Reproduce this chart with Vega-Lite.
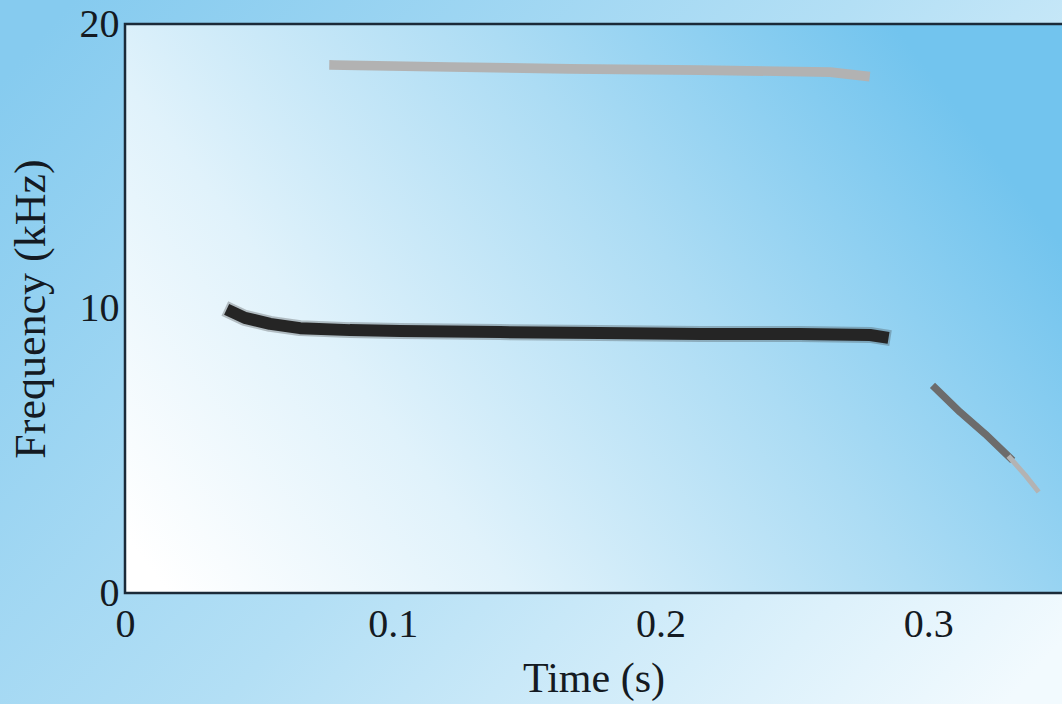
{
  "$schema": "https://vega.github.io/schema/vega-lite/v6.json",
  "autosize": {"type": "none"},
  "width": 937,
  "height": 569,
  "padding": {"left": 125, "top": 24, "right": 0, "bottom": 111},
  "background": "#a8dbf4",
  "config": {
    "view": {"stroke": null},
    "axis": {
      "labelFont": "Liberation Serif",
      "titleFont": "Liberation Serif",
      "labelColor": "#141a22",
      "titleColor": "#141a22",
      "titleFontWeight": "normal",
      "grid": false,
      "ticks": false,
      "domain": false,
      "labelFlush": false
    }
  },
  "data": {
    "values": [
      {"trace": "main", "t": 0.0400, "f": 9.88},
      {"trace": "main", "t": 0.0448, "f": 9.67},
      {"trace": "main", "t": 0.0542, "f": 9.46},
      {"trace": "main", "t": 0.0654, "f": 9.31},
      {"trace": "main", "t": 0.0840, "f": 9.24},
      {"trace": "main", "t": 0.1027, "f": 9.21},
      {"trace": "main", "t": 0.1401, "f": 9.17},
      {"trace": "main", "t": 0.1774, "f": 9.14},
      {"trace": "main", "t": 0.2148, "f": 9.10},
      {"trace": "main", "t": 0.2521, "f": 9.10},
      {"trace": "main", "t": 0.2783, "f": 9.07},
      {"trace": "main", "t": 0.2830, "f": 9.00},
      {"trace": "upper", "t": 0.0781, "f": 18.56},
      {"trace": "upper", "t": 0.1214, "f": 18.49},
      {"trace": "upper", "t": 0.1662, "f": 18.42},
      {"trace": "upper", "t": 0.2148, "f": 18.38},
      {"trace": "upper", "t": 0.2634, "f": 18.31},
      {"trace": "upper", "t": 0.2764, "f": 18.17},
      {"trace": "sweep", "t": 0.3026, "f": 7.21},
      {"trace": "sweep", "t": 0.3119, "f": 6.36},
      {"trace": "sweep", "t": 0.3213, "f": 5.59},
      {"trace": "sweep", "t": 0.3306, "f": 4.75},
      {"trace": "sweep tail", "t": 0.3306, "f": 4.75},
      {"trace": "sweep tail", "t": 0.3362, "f": 4.15},
      {"trace": "sweep tail", "t": 0.3407, "f": 3.62}
    ]
  },
  "layer": [
    {
      "data": {"values": [{"a": 1}]},
      "mark": {
        "type": "rect",
        "fill": {
          "gradient": "linear",
          "x1": 0, "y1": 0.2, "x2": 1, "y2": 0.8,
          "stops": [
            {"offset": 0, "color": "#86cbef"},
            {"offset": 0.5, "color": "#b3dff5"},
            {"offset": 1, "color": "#f2fafe"}
          ]
        }
      },
      "encoding": {
        "x": {
          "datum": -0.06,
          "type": "quantitative",
          "scale": {"domain": [0, 0.35], "nice": false, "zero": false},
          "axis": {
            "zindex": 2,
            "values": [0, 0.1, 0.2, 0.3],
            "format": "~g",
            "labelFontSize": 40,
            "labelPadding": 11,
            "title": "Time (s)",
            "titleFontSize": 42,
            "titlePadding": 14
          }
        },
        "x2": {"datum": 0.37},
        "y": {
          "datum": -5,
          "type": "quantitative",
          "scale": {"domain": [0, 20], "nice": false, "zero": false},
          "axis": {
            "zindex": 2,
            "values": [0, 10, 20],
            "labelFontSize": 40,
            "labelPadding": 6,
            "title": "Frequency (kHz)",
            "titleFontSize": 44,
            "titlePadding": 26
          }
        },
        "y2": {"datum": 22}
      }
    },
    {
      "data": {"values": [{"a": 1}]},
      "mark": {
        "type": "rect",
        "stroke": "#1b2a38",
        "strokeWidth": 2.5,
        "fill": {
          "gradient": "linear",
          "x1": 0, "y1": 0.9, "x2": 1, "y2": 0.45,
          "stops": [
            {"offset": 0, "color": "#ffffff"},
            {"offset": 0.3, "color": "#e0f2fb"},
            {"offset": 0.65, "color": "#acdcf4"},
            {"offset": 1, "color": "#72c4ee"}
          ]
        }
      },
      "encoding": {
        "x": {"datum": 0, "type": "quantitative"},
        "x2": {"datum": 0.36},
        "y": {"datum": 0, "type": "quantitative"},
        "y2": {"datum": 20}
      }
    },
    {
      "transform": [{"filter": "datum.trace === 'main'"}],
      "mark": {"type": "line", "stroke": "#3a3a3a", "strokeWidth": 16, "opacity": 0.3, "strokeCap": "square", "strokeJoin": "round"},
      "encoding": {
        "x": {"field": "t", "type": "quantitative"},
        "y": {"field": "f", "type": "quantitative"}
      }
    },
    {
      "mark": {"type": "line", "strokeCap": "square", "strokeJoin": "round"},
      "encoding": {
        "x": {"field": "t", "type": "quantitative"},
        "y": {"field": "f", "type": "quantitative"},
        "color": {
          "field": "trace",
          "type": "nominal",
          "scale": {"domain": ["main", "upper", "sweep", "sweep tail"], "range": ["#252525", "#b2b2b2", "#6c6c6c", "#b3b3b3"]},
          "legend": null
        },
        "strokeWidth": {
          "field": "trace",
          "type": "nominal",
          "scale": {"domain": ["main", "upper", "sweep", "sweep tail"], "range": [12, 5, 10, 8]},
          "legend": null
        }
      }
    }
  ]
}
